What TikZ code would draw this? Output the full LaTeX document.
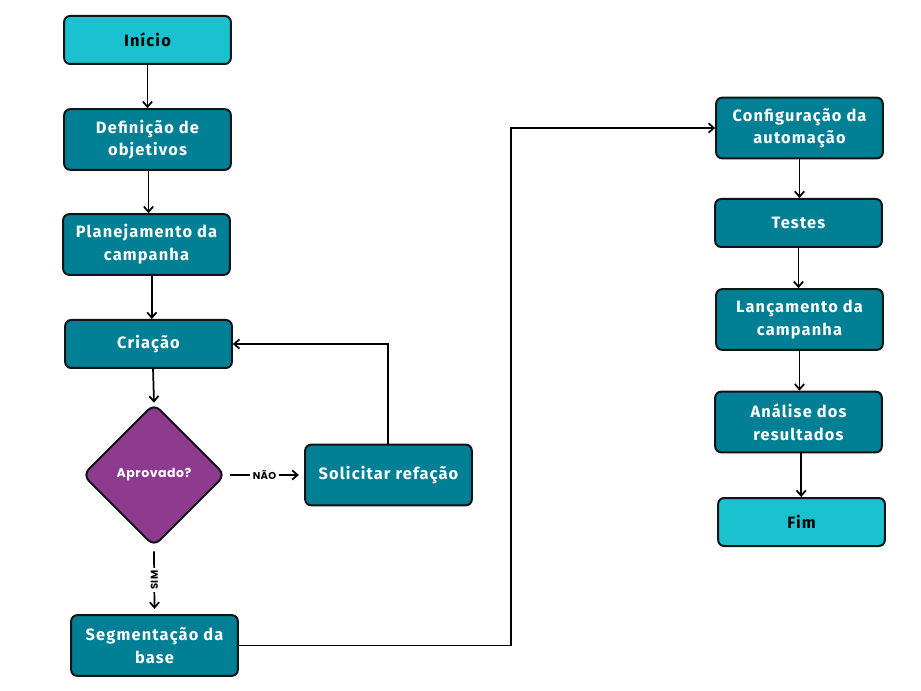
\documentclass[tikz,border=0pt]{standalone}
\usepackage{fontspec}
\setmainfont{Fira Sans}[LetterSpace=7]
\newfontfamily\popfont{Poppins}[LetterSpace=4]
\usetikzlibrary{arrows.meta,shapes.geometric}
\definecolor{teal1}{HTML}{007F95}
\definecolor{cyan1}{HTML}{1AC1CE}
\definecolor{purp}{HTML}{8E3A8F}
\definecolor{edge1}{HTML}{101418}
\tikzset{
  boxbase/.style={draw=edge1, line width=1.5pt, rounded corners=4.5pt, minimum width=125pt, align=center, font=\fontsize{12.3}{17}\selectfont\bfseries, inner sep=0pt},
  tealbox/.style={boxbase, fill=teal1, text=white, minimum height=45.5pt},
  tealsmall/.style={boxbase, fill=teal1, text=white, minimum height=36pt},
  cyanbox/.style={boxbase, fill=cyan1, text=black, minimum height=36pt},
  decis/.style={diamond, draw=edge1, line width=1.5pt, fill=purp, text=white, rounded corners=6pt, minimum width=107pt, minimum height=107pt, inner sep=0pt, font=\popfont\fontsize{9.4}{10}\selectfont\bfseries},
  conn/.style={draw=black, line width=1.3pt, -{Straight Barb[length=4pt,width=7pt]}},
  elabel/.style={fill=white, font=\popfont\fontsize{7.5}{8}\selectfont\bfseries, inner sep=2pt}
}
\begin{document}
\begin{tikzpicture}[x=0.75pt,y=-0.75pt]
\useasboundingbox (0,0) rectangle (921,691);
\node[cyanbox] (ini) at (147.5,40) {Início};
\node[tealbox] (def) at (147.5,139.5) {Definição de\\objetivos};
\node[tealbox] (pla) at (146.5,244.5) {Planejamento da\\campanha};
\node[tealsmall] (cri) at (148.5,344) {Criação};
\node[decis] (apr) at (154,475) {Aprovado?};
\node[tealbox] (sol) at (388.5,475) {Solicitar refação};
\node[tealbox] (seg) at (154.5,645.5) {Segmentação da\\base};
\node[tealbox] (cfg) at (799.5,128) {Configuração da\\automação};
\node[tealsmall] (tes) at (798.5,223) {Testes};
\node[tealbox] (lan) at (799.5,319.5) {Lançamento da\\campanha};
\node[tealbox] (ana) at (798.5,422) {Análise dos\\resultados};
\node[cyanbox] (fim) at (801.5,522) {Fim};
\coordinate (c1) at (388,344);
\coordinate (c2) at (511,645.5);
\coordinate (c3) at (511,128);
\draw[conn] (ini.south) -- (def.north);
\draw[conn] ([xshift=0.75pt]def.south) -- ([xshift=0.75pt]pla.north -| def.south);
\draw[conn] ([xshift=4pt]pla.south) -- ([xshift=4pt]pla.south |- cri.north);
\draw[conn] ([xshift=3.4pt]cri.south) -- (apr.north);
\draw[conn] ([xshift=3pt]apr.east) -- node[elabel]{NÃO} ([xshift=-4pt]sol.west);
\draw[conn] (sol.north -| c1) -- (c1) -- (cri.east);
\draw[conn] ([yshift=-3pt]apr.south) -- node[elabel,rotate=90]{SIM} ([yshift=4pt]seg.north);
\draw[conn] (seg.east) -- (c2) -- (c3) -- (cfg.west);
\draw[conn] (cfg.south) -- (cfg.south |- tes.north);
\draw[conn] (tes.south) -- (tes.south |- lan.north);
\draw[conn] (lan.south) -- (lan.south |- ana.north);
\draw[conn] ([xshift=2pt]ana.south) -- ([xshift=2pt]ana.south |- fim.north);
\end{tikzpicture}
\end{document}
